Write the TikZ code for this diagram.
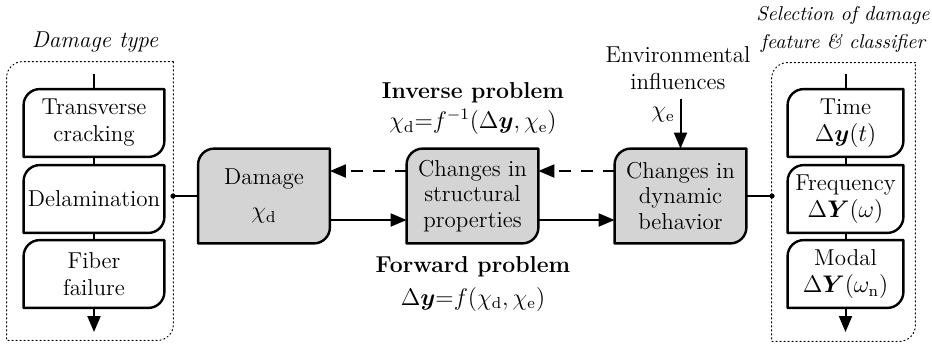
\documentclass[tikz,border=0pt]{standalone}
\usepackage{amsmath,bm}
\usetikzlibrary{arrows.meta,backgrounds}
\definecolor{boxgray}{RGB}{212,212,212}
\newcommand{\myrad}{8pt}
\newcommand{\myctl}{3.6pt}
\newcommand{\cornerbox}[2]{%
  \draw[#1] (#2.north east) -- ([xshift=\myrad]#2.north west)
    .. controls ([xshift=\myctl]#2.north west) and ([yshift=-\myctl]#2.north west) .. ([yshift=-\myrad]#2.north west)
    -- (#2.south west) -- ([xshift=-\myrad]#2.south east)
    .. controls ([xshift=-\myctl]#2.south east) and ([yshift=\myctl]#2.south east) .. ([yshift=\myrad]#2.south east)
    -- cycle;}
\begin{document}
\begin{tikzpicture}[x=0.5pt,y=-0.5pt,
  txt/.style={font=\fontsize{11.5}{13.5}\selectfont, align=center, inner sep=0pt},
  smallbox/.style={txt, minimum height=33.5pt},
  bigbox/.style={txt, font=\fontsize{11.5}{12.8}\selectfont, minimum width=65.5pt, minimum height=47pt},
  outl/.style={line width=1.2pt, line join=round},
  conn/.style={line width=1pt},
  arr/.style={conn, -{Triangle[length=8pt,width=6.5pt]}},
  dashconn/.style={arr, dash pattern=on 6pt off 5pt},
  dots/.style={line width=0.5pt, dash pattern=on 0.6pt off 1.4pt, line cap=round}]
\useasboundingbox (0,0) rectangle (932,344);

% left column
\node[txt] (ltitle) at (95,42) {\itshape Damage type};
\node[txt, minimum width=83pt, minimum height=139pt] (lcont) at (90,201) {};
\node[smallbox, minimum width=70pt] (t1) at (94,123) {Transverse\\cracking};
\node[smallbox, minimum width=70pt] (t2) at (94,199) {Delamination};
\node[smallbox, minimum width=70pt] (t3) at (94,274) {Fiber\\failure};
\coordinate (ltop) at (94,74);
\coordinate (lbot) at (94,332);
\coordinate (ldot) at (173,196);

% main row
\node[bigbox] (dmg) at (264,196) {Damage\\[4.5pt]$\chi_{\mathrm{d}}$};
\node[bigbox] (str) at (472.5,196) {Changes in\\structural\\properties};
\node[bigbox] (dyn) at (680.5,196) {Changes in\\dynamic\\behavior};

\node[txt] (inv) at (473,93) {\bfseries Inverse problem};
\node[txt] (invf) at (473,122) {$\chi_{\mathrm{d}}{=}f^{-1}(\Delta\bm{y},\chi_{\mathrm{e}})$};
\node[txt] (fwd) at (473,267) {\bfseries Forward problem};
\node[txt] (fwdf) at (473,299) {$\Delta\bm{y}{=}f(\chi_{\mathrm{d}},\chi_{\mathrm{e}})$};

\node[txt] (env) at (678,68.5) {Environmental\\influences};
\coordinate (envarr) at (680.5,99);
\node[txt] (chie) at (663,115) {$\chi_{\mathrm{e}}$};

% right column
\node[txt, font=\fontsize{10}{14}\selectfont\itshape] (rtitle) at (843,29) {Selection of damage\\feature \& classifier};
\node[txt, minimum width=71.5pt, minimum height=139pt] (rcont) at (843.5,202) {};
\node[smallbox, minimum width=57.5pt] (r1) at (845.5,123) {Time\\$\Delta\bm{y}(t)$};
\node[smallbox, minimum width=57.5pt] (r2) at (845.5,199) {Frequency\\$\Delta\bm{Y}(\omega)$};
\node[smallbox, minimum width=57.5pt] (r3) at (845.5,274) {Modal\\$\Delta\bm{Y}(\omega_{\mathrm{n}})$};
\coordinate (rtop) at (845.5,74);
\coordinate (rbot) at (845.5,332);
\coordinate (rdot) at (772,196);

% outlines
\begin{scope}[on background layer]
\cornerbox{dots}{lcont}
\cornerbox{dots}{rcont}
\cornerbox{outl,fill=white}{t1}
\cornerbox{outl,fill=white}{t2}
\cornerbox{outl,fill=white}{t3}
\cornerbox{outl,fill=white}{r1}
\cornerbox{outl,fill=white}{r2}
\cornerbox{outl,fill=white}{r3}
\cornerbox{outl,fill=boxgray}{dmg}
\cornerbox{outl,fill=boxgray}{str}
\cornerbox{outl,fill=boxgray}{dyn}
\end{scope}

% connectors
\draw[conn] (ltop) -- (t1.north);
\draw[conn] (t1.south) -- (t2.north);
\draw[conn] (t2.south) -- (t3.north);
\draw[arr] (t3.south) -- (lbot);
\draw[conn] (rtop) -- (r1.north);
\draw[conn] (r1.south) -- (r2.north);
\draw[conn] (r2.south) -- (r3.north);
\draw[arr] (r3.south) -- (rbot);

\draw[conn] (ldot) -- (dmg);
\draw[conn] (dyn) -- (rdot);
\fill (ldot) circle (1.3pt);
\fill (rdot) circle (1.3pt);

\draw[arr] ([yshift=-12pt]dmg.east) -- ([yshift=-12pt]str.west);
\draw[arr] ([yshift=-12pt]str.east) -- ([yshift=-12pt]dyn.west);
\draw[dashconn] ([yshift=12.5pt]str.west) -- ([yshift=12.5pt]dmg.east);
\draw[dashconn] ([yshift=12.5pt]dyn.west) -- ([yshift=12.5pt]str.east);
\draw[arr] (envarr) -- (dyn.north);
\end{tikzpicture}
\end{document}
